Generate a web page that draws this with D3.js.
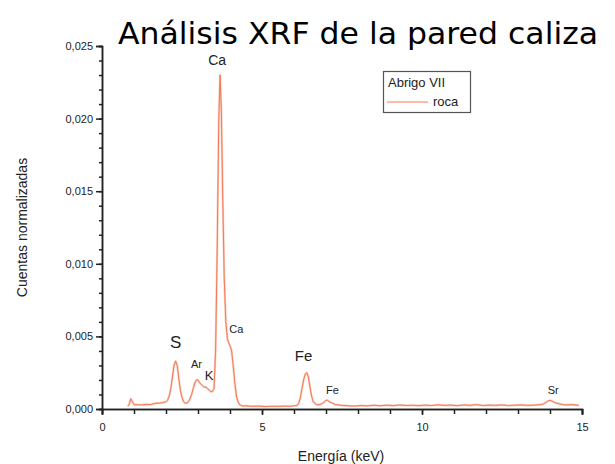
<!DOCTYPE html>
<html><head><meta charset="utf-8">
<script src="https://cdn.jsdelivr.net/npm/d3@7"></script>
<style>
body{margin:0;background:#fff;}
svg{display:block;}
text{font-family:"Liberation Sans",Arial,sans-serif;}
</style></head>
<body><svg id="c" width="615" height="464"></svg>
<script>
const titleText = "Análisis XRF de la pared caliza";
const xLabel = "Energía (keV)";
const yLabel = "Cuentas normalizadas";
const legendTitle = "Abrigo VII";
const seriesName = "roca";
const xTicks = [0, 5, 10, 15];
const yTicks = [0, 0.005, 0.010, 0.015, 0.020, 0.025];
const yTickLabels = ["0,000", "0,005", "0,010", "0,015", "0,020", "0,025"];
const energy = [0.80,0.85,0.90,0.95,1.00,1.10,1.20,1.30,1.40,1.50,1.60,1.70,1.80,1.90,2.00,2.05,2.10,2.15,2.20,2.25,2.30,2.35,2.40,2.45,2.50,2.55,2.60,2.65,2.70,2.75,2.80,2.85,2.90,2.95,3.00,3.05,3.10,3.15,3.20,3.25,3.30,3.35,3.40,3.45,3.50,3.55,3.60,3.65,3.69,3.73,3.77,3.82,3.87,3.92,3.97,4.01,4.05,4.10,4.15,4.20,4.25,4.30,4.40,4.50,4.70,4.90,5.10,5.30,5.50,5.70,5.90,6.10,6.15,6.20,6.25,6.30,6.35,6.40,6.45,6.50,6.55,6.60,6.70,6.80,6.90,7.00,7.05,7.10,7.20,7.30,7.50,7.70,7.90,8.10,8.30,8.50,8.70,8.90,9.10,9.30,9.50,9.70,9.90,10.10,10.30,10.50,10.70,10.90,11.10,11.30,11.50,11.70,11.90,12.10,12.30,12.50,12.70,12.90,13.10,13.30,13.50,13.70,13.80,13.90,14.00,14.10,14.20,14.30,14.40,14.50,14.70,14.90,15.00];
const counts = [0.00020,0.00030,0.00070,0.00050,0.00030,0.00030,0.00028,0.00030,0.00032,0.00030,0.00035,0.00040,0.00040,0.00045,0.00050,0.00060,0.00090,0.00140,0.00220,0.00300,0.00330,0.00300,0.00210,0.00130,0.00080,0.00050,0.00040,0.00040,0.00050,0.00070,0.00100,0.00140,0.00180,0.00200,0.00200,0.00180,0.00170,0.00160,0.00150,0.00150,0.00140,0.00130,0.00120,0.00120,0.00140,0.00400,0.01100,0.02000,0.02300,0.02050,0.01500,0.00900,0.00600,0.00480,0.00450,0.00430,0.00400,0.00300,0.00180,0.00090,0.00050,0.00030,0.00020,0.00022,0.00018,0.00020,0.00017,0.00019,0.00018,0.00020,0.00019,0.00025,0.00040,0.00080,0.00140,0.00200,0.00240,0.00250,0.00220,0.00150,0.00090,0.00050,0.00030,0.00030,0.00040,0.00060,0.00060,0.00050,0.00040,0.00030,0.00025,0.00022,0.00020,0.00024,0.00021,0.00026,0.00022,0.00027,0.00023,0.00028,0.00024,0.00026,0.00023,0.00027,0.00024,0.00029,0.00025,0.00027,0.00023,0.00028,0.00025,0.00030,0.00024,0.00027,0.00025,0.00028,0.00024,0.00026,0.00028,0.00025,0.00027,0.00030,0.00035,0.00050,0.00060,0.00050,0.00040,0.00035,0.00030,0.00028,0.00030,0.00025];
const peakLabels = ["Ca", "S", "Ar", "K", "Ca", "Fe", "Fe", "Sr"];
const peakEnergy = [3.60, 2.30, 2.95, 3.35, 4.20, 6.30, 7.20, 14.10];
const peakValue = [0.0237, 0.0042, 0.0028, 0.0020, 0.0052, 0.0033, 0.0010, 0.0010];
const peakSize = [14, 17, 11, 13, 11, 15, 11, 11];

const svg = d3.select("#c");
const m = {l:102, r:33, t:46, b:55};
const W = 615, H = 464;
const x = d3.scaleLinear().domain([0,15]).range([m.l, W - m.r]);
const y = d3.scaleLinear().domain([0,0.025]).range([H - m.b, m.t]);

// title
svg.append("text").attr("x", 118).attr("y", 44)
  .attr("textLength", 480).attr("lengthAdjust", "spacingAndGlyphs")
  .style("font-family", "'Comic Sans MS','DejaVu Sans',sans-serif")
  .style("font-size", "31px").attr("fill", "#000").text(titleText);

// axes
const yAxis = d3.axisLeft(y).tickValues(yTicks).tickFormat((d,i)=>yTickLabels[i]).tickSize(6).tickPadding(3);
const yMinor = d3.axisLeft(y).tickValues(d3.range(0,26).map(i=>i*0.001)).tickFormat("").tickSize(3);
const xAxis = d3.axisBottom(x).tickValues(xTicks).tickFormat(d=>d).tickSize(6).tickPadding(8);
const xMinor = d3.axisBottom(x).tickValues(d3.range(0,16)).tickFormat("").tickSize(5);

function styleAxis(g){
  g.select(".domain").attr("stroke","#222").attr("stroke-width",1.5);
  g.selectAll(".tick line").attr("stroke","#222").attr("stroke-width",1.5);
  g.selectAll(".tick text").attr("fill","#222").style("font-size","11px").style("font-family","'Liberation Sans',Arial,sans-serif");
}
svg.append("g").attr("transform",`translate(${m.l},0)`).call(yMinor).call(styleAxis);
svg.append("g").attr("transform",`translate(${m.l},0)`).call(yAxis).call(styleAxis);
svg.append("g").attr("transform",`translate(0,${H-m.b})`).call(xMinor).call(styleAxis);
svg.append("g").attr("transform",`translate(0,${H-m.b})`).call(xAxis).call(styleAxis);

// axis labels
svg.append("text").attr("transform",`translate(27,${(m.t + H - m.b)/2}) rotate(-90)`)
  .attr("text-anchor","middle").style("font-size","14px").attr("fill","#222").text(yLabel);
svg.append("text").attr("x", 341).attr("y", 461).attr("text-anchor","middle")
  .style("font-size","14px").attr("fill","#222").text(xLabel);

// spectrum
const data = energy.map((e,i)=>[e, counts[i]]);
const line = d3.line().x(d=>x(d[0])).y(d=>y(d[1]));
svg.append("path").datum(data).attr("d", line).attr("fill","none")
  .attr("stroke","#fbcdbb").attr("stroke-width",2.2).attr("stroke-linejoin","round");
svg.append("path").datum(data).attr("d", line).attr("fill","none")
  .attr("stroke","#f07050").attr("stroke-width",0.9).attr("stroke-linejoin","round");

// peak labels
svg.selectAll("text.pk").data(peakLabels).enter().append("text").attr("class","pk")
  .attr("x",(d,i)=>x(peakEnergy[i])).attr("y",(d,i)=>y(peakValue[i]))
  .attr("text-anchor","middle").style("font-size",(d,i)=>peakSize[i]+"px")
  .attr("fill","#222").text(d=>d);

// legend
const lg = svg.append("g");
lg.append("rect").attr("x",383.5).attr("y",71.5).attr("width",87).attr("height",41)
  .attr("fill","#fff").attr("stroke","#555").attr("stroke-width",1.2);
lg.append("text").attr("x",388).attr("y",87).style("font-size","13px").attr("fill","#222").text(legendTitle);
lg.append("line").attr("x1",387).attr("x2",428).attr("y1",102).attr("y2",102)
  .attr("stroke","#f7a88a").attr("stroke-width",1.6);
lg.append("text").attr("x",433).attr("y",106).style("font-size","13px").attr("fill","#222").text(seriesName);
</script></body></html>
